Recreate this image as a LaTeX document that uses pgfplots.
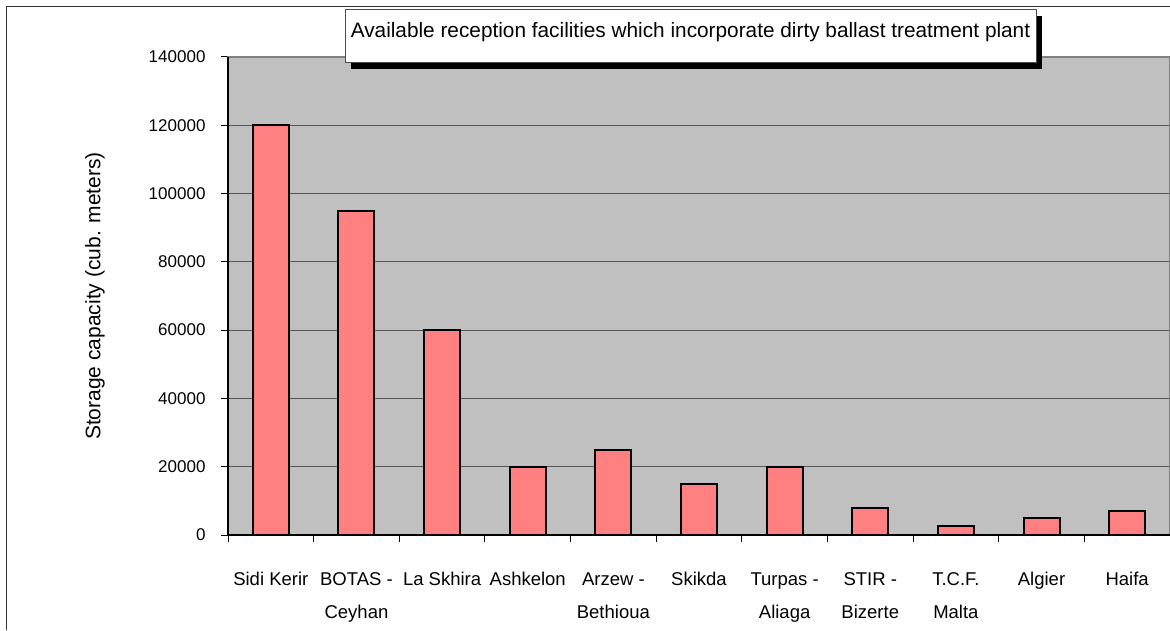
\documentclass[border=0pt]{standalone}
\usepackage{fontspec}
\setmainfont{Liberation Sans}
\usepackage{pgfplots}
\pgfplotsset{compat=1.18}
\definecolor{barfill}{HTML}{FF8080}
\definecolor{plotbg}{HTML}{C0C0C0}
\definecolor{gridc}{HTML}{555555}
\begin{document}
\begin{tikzpicture}[x=1pt,y=1pt]
\useasboundingbox (0,0) rectangle (1170,630);
\fill[white] (0,0) rectangle (1170,630);
\begin{axis}[
  at={(228pt,95pt)}, anchor=south west,
  scale only axis, width=942pt, height=478pt,
  xmin=-0.5, xmax=10.5, ymin=0, ymax=140000,
  ybar, bar width=36pt,
  axis background/.style={fill=plotbg},
  axis line style={draw=gray, line width=1.2pt},
  ytick={0,20000,40000,60000,80000,100000,120000,140000},
  scaled y ticks=false,
  yticklabel style={/pgf/number format/fixed, /pgf/number format/set thousands separator={}, /pgf/number format/assume math mode=true},
  ymajorgrids, grid style={gridc, line width=1.1pt},
  xtick={-0.5,0.5,1.5,2.5,3.5,4.5,5.5,6.5,7.5,8.5,9.5,10.5},
  x tick label as interval,
  xticklabels={Sidi Kerir, {BOTAS -\\Ceyhan}, La Skhira, Ashkelon, {Arzew -\\Bethioua}, Skikda, {Turpas -\\Aliaga}, {STIR -\\Bizerte}, {T.C.F.\\Malta}, Algier, Haifa},
  xticklabel style={align=center, font=\fontsize{18.5}{33}\selectfont, anchor=north, yshift=-27pt},
  yticklabel style={font=\fontsize{17}{20}\selectfont, xshift=-12pt},
  tick align=outside, major tick length=7pt,
  tick style={black, line width=1pt},
  xtick pos=bottom, ytick pos=left,
  ylabel={Storage capacity (cub. meters)},
  ylabel style={at={(axis description cs:-0.1412,0.5)}, anchor=center, font=\fontsize{21}{24}\selectfont},
  clip=false,
]
\addplot[fill=barfill, draw=black, line width=2pt] coordinates {
  (0,120000) (1,95000) (2,60000) (3,20000) (4,25000) (5,15000)
  (6,20000) (7,8000) (8,2700) (9,5000) (10,7000)
};
\draw[black, line width=1.5pt] (rel axis cs:0,1) -- (rel axis cs:0,0) -- (rel axis cs:1,0);
\end{axis}
\draw[black!80, line width=1.6pt] (6.5,0) -- (6.5,623.5) -- (1170,623.5);
\fill[black] (351,561) rectangle (1042,614);
\draw[black!70, line width=1pt, fill=white] (345,567) rectangle (1036,620);
\node[anchor=base, font=\fontsize{20.8}{24}\selectfont] at (690.5,592) {Available reception facilities which incorporate dirty ballast treatment plant};
\end{tikzpicture}
\end{document}
